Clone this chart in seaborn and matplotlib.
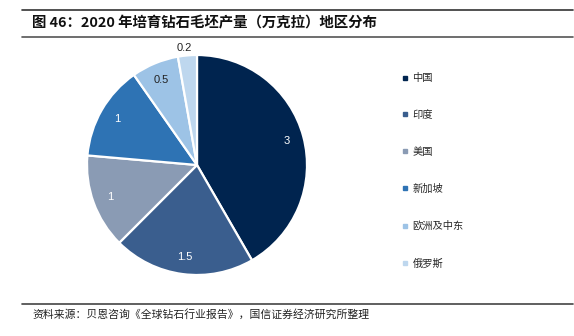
import matplotlib
matplotlib.use("Agg")
import matplotlib.pyplot as plt
import seaborn as sns
from matplotlib.lines import Line2D
import numpy as np

sns.set_theme(style="white")
plt.rcParams['font.family'] = ['Noto Sans CJK SC', 'DejaVu Sans']

regions = ["中国", "印度", "美国", "新加坡", "欧洲及中东", "俄罗斯"]
values = [3, 1.5, 1, 1, 0.5, 0.2]
value_labels = ["3", "1.5", "1", "1", "0.5", "0.2"]
colors = ["#00244f", "#3a5e8e", "#8a9bb4", "#2e73b4", "#9dc3e6", "#bed7ee"]
label_colors = ["white", "white", "white", "white", "#222222", "#222222"]

title = "图 46：2020 年培育钻石毛坯产量（万克拉）地区分布"
source = "资料来源：贝恩咨询《全球钻石行业报告》，国信证券经济研究所整理"

W, H = 574, 336
fig = plt.figure(figsize=(W / 100, H / 100), dpi=100)

cx, cy, r = 197, 165, 110
ax = fig.add_axes([(cx - r) / W, (H - cy - r) / H, 2 * r / W, 2 * r / H])
wedges, texts = ax.pie(values, labels=value_labels, colors=colors, startangle=90,
                       counterclock=False, labeldistance=0.84,
                       wedgeprops=dict(edgecolor="white", linewidth=1.6),
                       textprops=dict(fontsize=8, family=['Liberation Sans', 'DejaVu Sans']))
for t, c in zip(texts, label_colors):
    t.set_color(c)
    t.set_ha("center")
    t.set_va("center")
# last small slice label sits just outside the pie
w = wedges[-1]
ang = np.deg2rad((w.theta1 + w.theta2) / 2)
texts[-1].set_position((1.07 * np.cos(ang) - 0.02, 1.07 * np.sin(ang)))
ax.set_aspect("equal")
ax.set_xlim(-1, 1)
ax.set_ylim(-1, 1)

handles = [Line2D([0], [0], marker="s", linestyle="none", markersize=2.4,
                  markerfacecolor=c, markeredgecolor=c) for c in colors]
leg = fig.legend(handles, regions, loc="upper left",
                 bbox_to_anchor=(398 / W, 1 - 69 / H), frameon=False,
                 fontsize=7.4, labelspacing=2.62, handlelength=0.6,
                 handletextpad=0.4, borderaxespad=0)

# title and rules
fig.add_artist(Line2D([22 / W, 573 / W], [1 - 9.5 / H, 1 - 9.5 / H], color="#333333", lw=1.2))
fig.add_artist(Line2D([22 / W, 573 / W], [1 - 37 / H, 1 - 37 / H], color="#555555", lw=1.2))
fig.add_artist(Line2D([22 / W, 573 / W], [1 - 304 / H, 1 - 304 / H], color="#444444", lw=1.2))
fig.text(32 / W, 1 - 23 / H, title, fontsize=10.4, fontweight="bold", va="center", ha="left",
         color="#111111")
fig.text(32 / W, 1 - 314 / H, source, fontsize=7.8, va="center", ha="left", color="#222222")

fig.savefig("out.png", dpi=100)
